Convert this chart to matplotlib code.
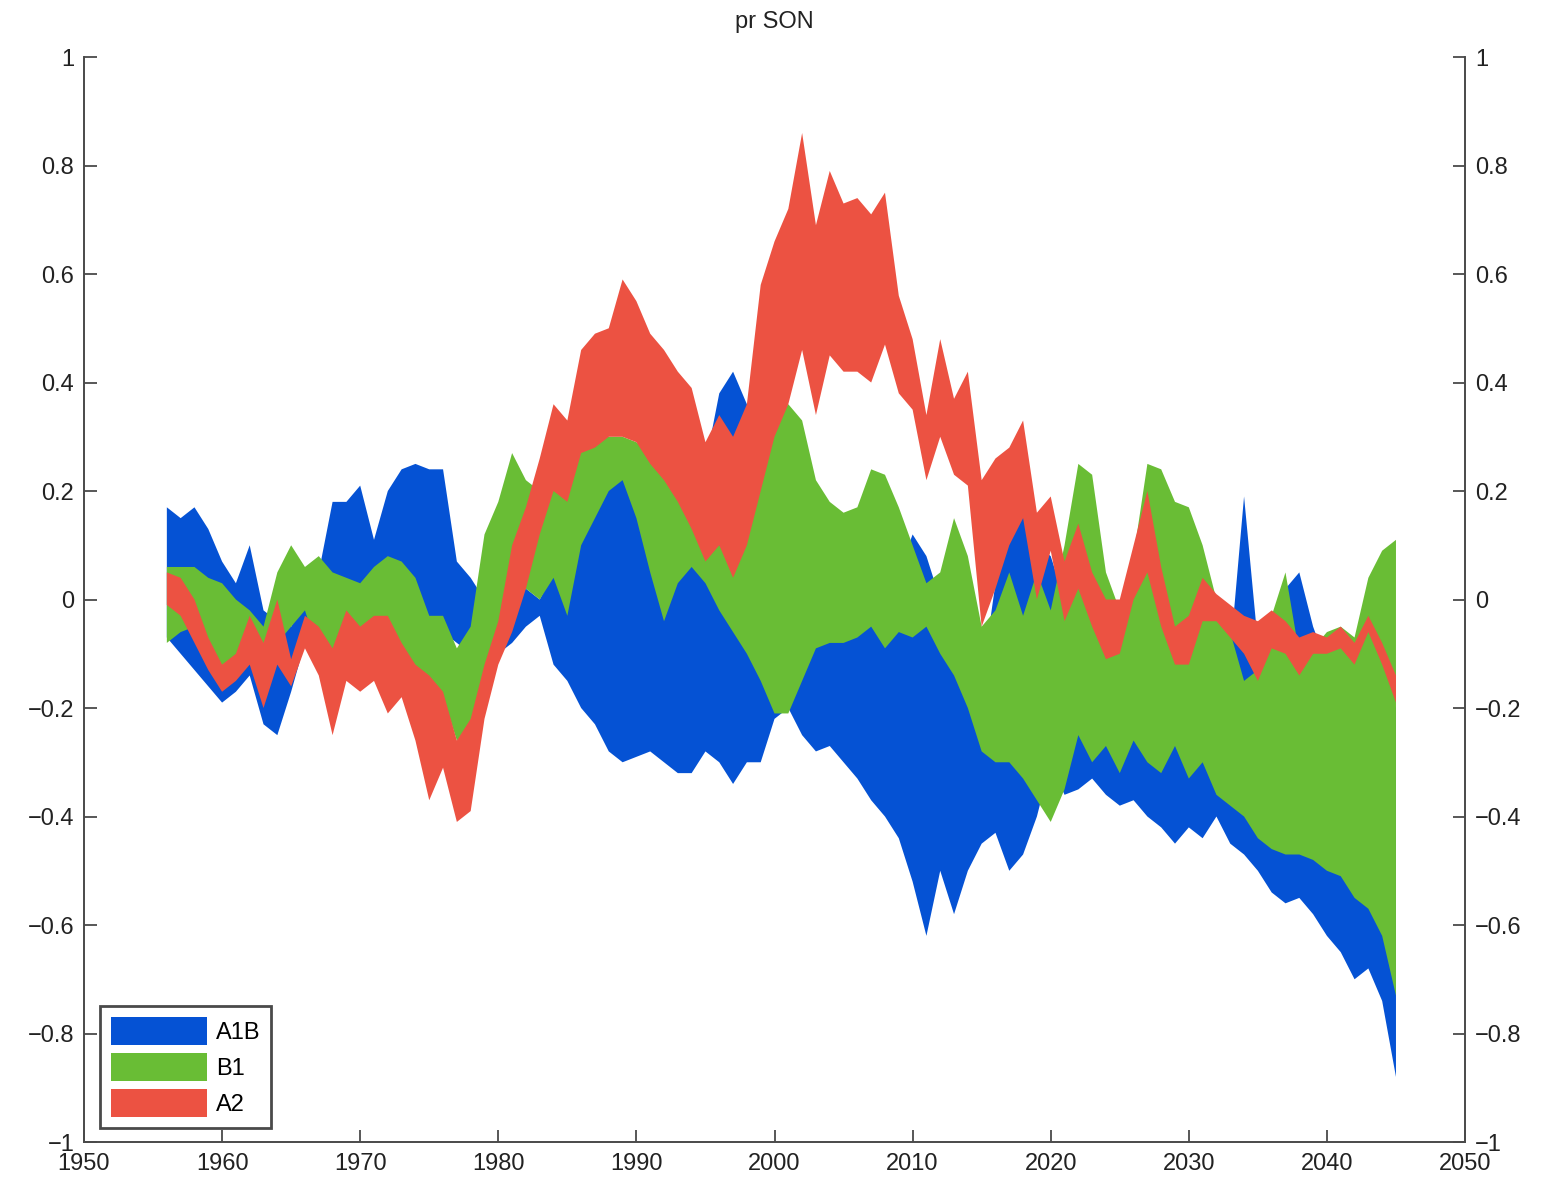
import numpy as np
import matplotlib.pyplot as plt
from matplotlib.ticker import FuncFormatter

plt.rcParams['font.family'] = ['Liberation Sans', 'DejaVu Sans']

years = list(range(1956, 2046))

# A1B band (upper / lower edge)
a1b_hi = [0.17, 0.15, 0.17, 0.13, 0.07, 0.03, 0.10, -0.02, -0.04, -0.05,
          0.00, 0.05, 0.18, 0.18, 0.21, 0.11, 0.20, 0.24, 0.25, 0.24,
          0.24, 0.07, 0.04, 0.00, -0.03, 0.00, 0.02, 0.00, 0.05, 0.10,
          0.15, 0.20, 0.25, 0.25, 0.20, 0.10, 0.05, 0.10, 0.12, 0.25,
          0.38, 0.42, 0.36, 0.15, 0.10, 0.05, 0.00, -0.02, 0.00, 0.00,
          0.00, 0.00, 0.00, 0.05, 0.12, 0.08, 0.00, 0.00, -0.10, -0.15,
          0.03, 0.12, 0.16, 0.10, 0.08, 0.00, -0.05, -0.05, -0.05, -0.10,
          -0.05, 0.00, 0.00, -0.05, -0.05, -0.05, -0.05, -0.10, 0.19, -0.08,
          -0.05, 0.02, 0.05, -0.05, -0.12, -0.12, -0.12, -0.15, -0.15, -0.20]
a1b_lo = [-0.07, -0.10, -0.13, -0.16, -0.19, -0.17, -0.14, -0.23, -0.25, -0.17,
          -0.08, -0.07, -0.05, -0.04, -0.02, 0.00, 0.02, 0.00, -0.02, -0.05,
          -0.06, -0.08, -0.10, -0.09, -0.10, -0.08, -0.05, -0.03, -0.12, -0.15,
          -0.20, -0.23, -0.28, -0.30, -0.29, -0.28, -0.30, -0.32, -0.32, -0.28,
          -0.30, -0.34, -0.30, -0.30, -0.22, -0.20, -0.25, -0.28, -0.27, -0.30,
          -0.33, -0.37, -0.40, -0.44, -0.52, -0.62, -0.50, -0.58, -0.50, -0.45,
          -0.43, -0.50, -0.47, -0.40, -0.30, -0.36, -0.35, -0.33, -0.36, -0.38,
          -0.37, -0.40, -0.42, -0.45, -0.42, -0.44, -0.40, -0.45, -0.47, -0.50,
          -0.54, -0.56, -0.55, -0.58, -0.62, -0.65, -0.70, -0.68, -0.74, -0.88]

# B1 band
b1_hi = [0.06, 0.06, 0.06, 0.04, 0.03, 0.00, -0.02, -0.05, 0.05, 0.10,
         0.06, 0.08, 0.05, 0.04, 0.03, 0.06, 0.08, 0.07, 0.04, -0.03,
         -0.03, -0.09, -0.05, 0.12, 0.18, 0.27, 0.22, 0.20, 0.22, 0.25,
         0.28, 0.30, 0.30, 0.30, 0.29, 0.27, 0.24, 0.20, 0.15, 0.12,
         0.10, 0.10, 0.20, 0.28, 0.33, 0.36, 0.33, 0.22, 0.18, 0.16,
         0.17, 0.24, 0.23, 0.17, 0.10, 0.03, 0.05, 0.15, 0.08, -0.05,
         -0.02, 0.05, -0.03, 0.05, -0.02, 0.10, 0.25, 0.23, 0.05, -0.02,
         0.08, 0.25, 0.24, 0.18, 0.17, 0.10, 0.00, -0.06, -0.15, -0.13,
         -0.03, 0.05, -0.10, -0.09, -0.06, -0.05, -0.07, 0.04, 0.09, 0.11]
b1_lo = [-0.08, -0.06, -0.05, -0.10, -0.15, -0.12, -0.08, -0.10, -0.08, -0.05,
         -0.02, -0.10, -0.10, -0.03, -0.06, -0.04, -0.04, -0.09, -0.13, -0.16,
         -0.18, -0.26, -0.24, -0.13, -0.05, -0.02, 0.02, 0.00, 0.04, -0.03,
         0.10, 0.15, 0.20, 0.22, 0.15, 0.05, -0.04, 0.03, 0.06, 0.03,
         -0.02, -0.06, -0.10, -0.15, -0.21, -0.21, -0.15, -0.09, -0.08, -0.08,
         -0.07, -0.05, -0.09, -0.06, -0.07, -0.05, -0.10, -0.14, -0.20, -0.28,
         -0.30, -0.30, -0.33, -0.37, -0.41, -0.35, -0.25, -0.30, -0.27, -0.32,
         -0.26, -0.30, -0.32, -0.27, -0.33, -0.30, -0.36, -0.38, -0.40, -0.44,
         -0.46, -0.47, -0.47, -0.48, -0.50, -0.51, -0.55, -0.57, -0.62, -0.73]

# A2 band
a2_hi = [0.05, 0.04, 0.00, -0.07, -0.12, -0.10, -0.03, -0.08, 0.00, -0.11,
         -0.03, -0.05, -0.09, -0.02, -0.05, -0.03, -0.03, -0.08, -0.12, -0.14,
         -0.17, -0.26, -0.22, -0.12, -0.04, 0.10, 0.17, 0.26, 0.36, 0.33,
         0.46, 0.49, 0.50, 0.59, 0.55, 0.49, 0.46, 0.42, 0.39, 0.29,
         0.34, 0.30, 0.36, 0.58, 0.66, 0.72, 0.86, 0.69, 0.79, 0.73,
         0.74, 0.71, 0.75, 0.56, 0.48, 0.34, 0.48, 0.37, 0.42, 0.22,
         0.26, 0.28, 0.33, 0.16, 0.19, 0.07, 0.14, 0.05, 0.00, 0.00,
         0.10, 0.20, 0.06, -0.05, -0.03, 0.04, 0.01, -0.01, -0.03, -0.04,
         -0.02, -0.04, -0.07, -0.06, -0.07, -0.05, -0.08, -0.03, -0.08, -0.14]
a2_lo = [-0.01, -0.03, -0.08, -0.13, -0.17, -0.15, -0.12, -0.20, -0.12, -0.16,
         -0.09, -0.14, -0.25, -0.15, -0.17, -0.15, -0.21, -0.18, -0.26, -0.37,
         -0.31, -0.41, -0.39, -0.22, -0.12, -0.06, 0.02, 0.12, 0.20, 0.18,
         0.27, 0.28, 0.30, 0.30, 0.29, 0.25, 0.22, 0.18, 0.13, 0.07,
         0.10, 0.04, 0.10, 0.20, 0.30, 0.36, 0.46, 0.34, 0.45, 0.42,
         0.42, 0.40, 0.47, 0.38, 0.35, 0.22, 0.30, 0.23, 0.21, -0.05,
         0.02, 0.10, 0.15, 0.00, 0.09, -0.04, 0.02, -0.05, -0.11, -0.10,
         0.00, 0.05, -0.05, -0.12, -0.12, -0.04, -0.04, -0.07, -0.10, -0.15,
         -0.09, -0.10, -0.14, -0.10, -0.10, -0.09, -0.12, -0.06, -0.12, -0.19]

scenarios = ['A1B', 'B1', 'A2']
colors = ['#0552d4', '#69bd35', '#ec5242']

fig = plt.figure(figsize=(15.41, 11.88), dpi=100)
ax = fig.add_axes([0.0545, 0.0387, 0.8962, 0.9133])

bands = [(a1b_lo, a1b_hi), (b1_lo, b1_hi), (a2_lo, a2_hi)]
for i, (lo, hi) in enumerate(bands):
    ax.fill_between(years, lo, hi, facecolor=colors[i], edgecolor='none',
                    linewidth=0, label=scenarios[i], zorder=2 + i)

ax.set_xlim(1950, 2050)
ax.set_ylim(-1, 1)
ax.set_xticks(np.arange(1950, 2051, 10))
ax.set_yticks(np.arange(-1, 1.01, 0.2))
fmt = FuncFormatter(lambda v, p: ('%g' % (round(v, 2) + 0.0)).replace('-', '\u2212'))
ax.yaxis.set_major_formatter(fmt)

ax.spines['top'].set_visible(False)
for s in ['left', 'right', 'bottom']:
    ax.spines[s].set_color('#4a4a4a')
    ax.spines[s].set_linewidth(1.4)
ax.tick_params(axis='both', direction='in', length=9, width=1.3,
               color='#4a4a4a', labelsize=17, labelcolor='#222222')
ax.tick_params(axis='y', right=True, labelright=True, pad=7)
ax.tick_params(axis='x', top=False, pad=8)

ax.set_title('pr SON', fontsize=17, color='#222222', pad=21)

leg = ax.legend(loc='lower left', bbox_to_anchor=(0.0116, 0.0129),
                borderaxespad=0, fontsize=17, fancybox=False,
                handlelength=4.1, handleheight=1.45, handletextpad=0.35,
                labelspacing=0.35, borderpad=0.45, framealpha=1)
leg.get_frame().set_edgecolor('#4a4a4a')
leg.get_frame().set_linewidth(2)

fig.savefig('out.png', dpi=100)
